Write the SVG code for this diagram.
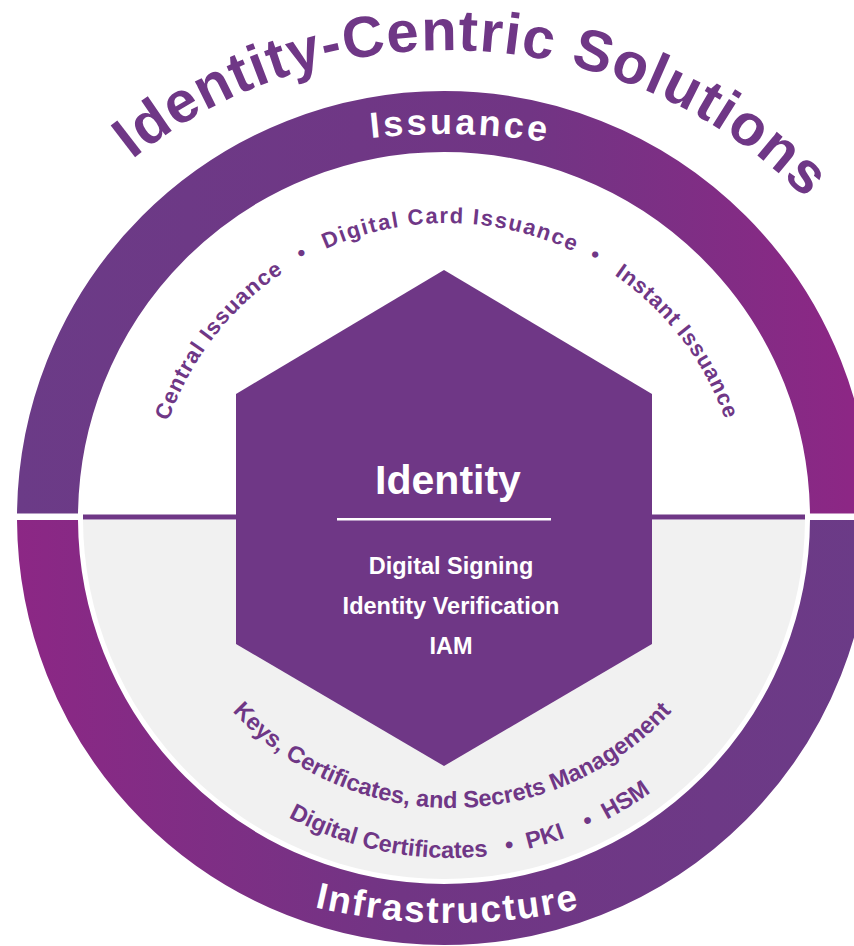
<svg xmlns="http://www.w3.org/2000/svg" width="854" height="946" viewBox="0 0 854 946">
  <defs>
    <style>
      .bold { font-family: "Liberation Sans", Arial, sans-serif; font-weight: bold; }
      .purple { fill: #6f3786; }
      .white { fill: #ffffff; }
    </style>
    <linearGradient id="ringTop" gradientUnits="userSpaceOnUse" x1="17" y1="0" x2="871" y2="0">
      <stop offset="0" stop-color="#6b3b87"/>
      <stop offset="0.6" stop-color="#713584"/>
      <stop offset="1" stop-color="#8e2685"/>
    </linearGradient>
    <linearGradient id="ringBottom" gradientUnits="userSpaceOnUse" x1="17" y1="0" x2="871" y2="0">
      <stop offset="0" stop-color="#8c2785"/>
      <stop offset="0.45" stop-color="#713584"/>
      <stop offset="1" stop-color="#6b3b87"/>
    </linearGradient>
    <clipPath id="upperHalf"><rect x="0" y="0" width="854" height="513.5"/></clipPath>
    <clipPath id="lowerHalf"><rect x="0" y="520" width="854" height="426"/></clipPath>
    <!-- baselines for the curved labels -->
    <path id="titleArc" d="M -43 518 A 490 468 0 0 1 937 518"/>
    <path id="issuanceArc" d="M -216 794 A 660 660 0 0 1 1104 794"/>
    <path id="infraArc" d="M -140 333 A 590 590 0 0 0 1040 333"/>
    <path id="innerTopArc" d="M 152 518 A 295 295 0 0 1 742 518"/>
    <path id="keysArc" d="M 154 510 A 298 298 0 0 0 750 510"/>
    <path id="certArc" d="M 110 518 A 340 340 0 0 0 790 518"/>
  </defs>

  <rect width="854" height="946" fill="#ffffff"/>

  <!-- outer ring, split into two halves -->
  <g id="ring">
    <circle cx="444" cy="518" r="396.5" fill="none" stroke="url(#ringTop)" stroke-width="61" clip-path="url(#upperHalf)"/>
    <circle cx="444" cy="518" r="396.5" fill="none" stroke="url(#ringBottom)" stroke-width="61" clip-path="url(#lowerHalf)"/>
    <circle cx="444" cy="518" r="361" fill="#f1f1f1" clip-path="url(#lowerHalf)"/>
    <rect x="83" y="514.5" width="722" height="5" fill="#6f3786"/>
  </g>

  <g id="title">
    <text class="bold purple" font-size="58" letter-spacing="1.3" text-anchor="middle">
      <textPath href="#titleArc" startOffset="52%">Identity-Centric Solutions</textPath>
    </text>
  </g>

  <g id="issuance">
    <text class="bold white" font-size="36" letter-spacing="3" text-anchor="middle">
      <textPath href="#issuanceArc" startOffset="50.77%">Issuance</textPath>
    </text>
  </g>

  <g id="infrastructure">
    <text class="bold white" font-size="37" letter-spacing="2" text-anchor="middle">
      <textPath href="#infraArc" startOffset="49.87%">Infrastructure</textPath>
    </text>
  </g>

  <g id="issuance-items" class="bold purple" font-size="22" text-anchor="middle">
    <text letter-spacing="1"><textPath href="#innerTopArc" startOffset="21%">Central Issuance</textPath></text>
    <text><textPath href="#innerTopArc" startOffset="34%">•</textPath></text>
    <text letter-spacing="1.6"><textPath href="#innerTopArc" startOffset="50.4%">Digital Card Issuance</textPath></text>
    <text><textPath href="#innerTopArc" startOffset="66.3%">•</textPath></text>
    <text letter-spacing="0.8"><textPath href="#innerTopArc" startOffset="79.2%">Instant Issuance</textPath></text>
  </g>

  <g id="infrastructure-items" class="bold purple" font-size="23.5" text-anchor="middle">
    <text><textPath href="#keysArc" startOffset="50%">Keys, Certificates, and Secrets Management</textPath></text>
    <text><textPath href="#certArc" startOffset="43.9%">Digital Certificates</textPath></text>
    <text><textPath href="#certArc" startOffset="55.7%">•</textPath></text>
    <text><textPath href="#certArc" startOffset="59.2%">PKI</textPath></text>
    <text><textPath href="#certArc" startOffset="63.6%">•</textPath></text>
    <text><textPath href="#certArc" startOffset="67.7%">HSM</textPath></text>
  </g>

  <g id="identity-hex">
    <polygon points="444,270 652,394 652,644 444,766 236,644 236,394" fill="#6f3786"/>
    <text x="448" y="494" class="bold white" font-size="41" text-anchor="middle">Identity</text>
    <rect x="337" y="518" width="214" height="2.5" fill="#ffffff"/>
    <g class="bold white" font-size="23.5" text-anchor="middle">
      <text x="451" y="574">Digital Signing</text>
      <text x="451" y="614">Identity Verification</text>
      <text x="451" y="654">IAM</text>
    </g>
  </g>
</svg>
